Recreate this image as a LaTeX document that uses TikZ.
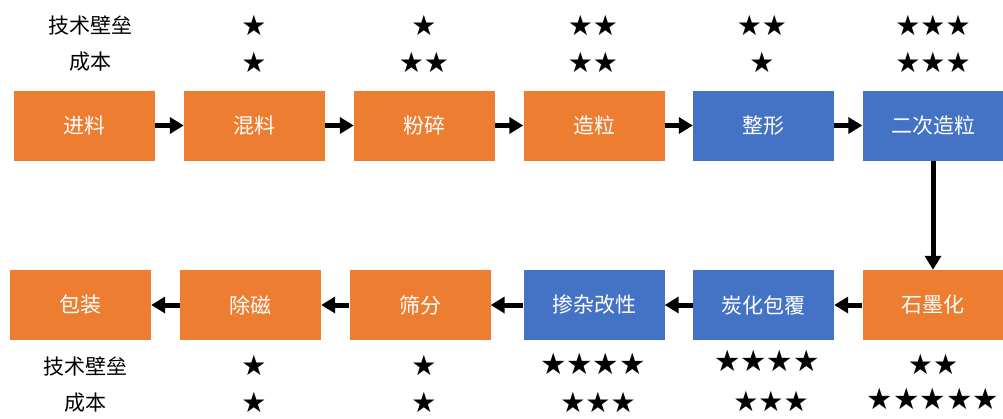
\documentclass[tikz,border=0pt]{standalone}
\usepackage{fontspec}
\setmainfont{Noto Sans CJK SC}
\newfontfamily\symfont{DejaVu Sans}
\usetikzlibrary{arrows.meta}
\definecolor{orng}{HTML}{ED7D31}
\definecolor{blu}{HTML}{4472C4}
\begin{document}
\begin{tikzpicture}[x=1pt,y=-1pt,
  box/.style={fill=#1, draw=none, minimum width=141pt, minimum height=70pt, inner sep=0pt,
    text=white, font=\fontsize{21}{21}\selectfont},
  lbl/.style={inner sep=0pt, font=\fontsize{21}{21}\selectfont},
  stars/.style={inner sep=0pt, font=\symfont\fontsize{28}{28}\selectfont},
  bstars/.style={inner sep=0pt, font=\symfont\fontsize{29.5}{29.5}\selectfont},
  conn/.style={line width=5pt, -{Triangle[length=14pt,width=16pt]}}]
\fill[white] (0,0) rectangle (1003,418);
\useasboundingbox (0,0) rectangle (1003,418);
% top row
\node[box=orng] (a1) at (84.5,125.5) {进料};
\node[box=orng] (a2) at (254.5,125.5) {混料};
\node[box=orng] (a3) at (424.5,125.5) {粉碎};
\node[box=orng] (a4) at (594,125.5) {造粒};
\node[box=blu]  (a5) at (763.5,125.5) {整形};
\node[box=blu]  (a6) at (933,125.5) {二次造粒};
% bottom row
\node[box=orng] (b6) at (933,305) {石墨化};
\node[box=blu]  (b5) at (763.5,305) {炭化包覆};
\node[box=blu]  (b4) at (594,305) {掺杂改性};
\node[box=orng] (b3) at (420,305) {筛分};
\node[box=orng] (b2) at (250.5,305) {除磁};
\node[box=orng] (b1) at (80.5,305) {包装};
% connectors
\draw[conn] (a1) -- (a2);
\draw[conn] (a2) -- (a3);
\draw[conn] (a3) -- (a4);
\draw[conn] (a4) -- (a5);
\draw[conn] (a5) -- (a6);
\draw[conn] (a6) -- (b6);
\draw[conn] (b6) -- (b5);
\draw[conn] (b5) -- (b4);
\draw[conn] (b4) -- (b3);
\draw[conn] (b3) -- (b2);
\draw[conn] (b2) -- (b1);
% top labels
\node[lbl] (t1) at (90,25) {技术壁垒};
\node[lbl] (t2) at (90,62) {成本};
\node[stars] (ts2) at (254,25) {★};
\node[stars] (tc2) at (254,62) {★};
\node[stars] (ts3) at (424,25) {★};
\node[stars] (tc3) at (424,62) {★★};
\node[stars] (ts4) at (593,25) {★★};
\node[stars] (tc4) at (593,62) {★★};
\node[stars] (ts5) at (762,25) {★★};
\node[stars] (tc5) at (762,62) {★};
\node[stars] (ts6) at (933,25) {★★★};
\node[stars] (tc6) at (933,62) {★★★};
% bottom labels
\node[lbl] (u1) at (85,366) {技术壁垒};
\node[lbl] (u2) at (85,403) {成本};
\node[stars] (us2) at (254,365) {★};
\node[stars] (uc2) at (254,402) {★};
\node[stars] (us3) at (424,365) {★};
\node[stars] (uc3) at (424,402) {★};
\node[bstars] (us4) at (593,364) {★★★★};
\node[stars] (uc4) at (598,402) {★★★};
\node[bstars] (us5) at (767,361) {★★★★};
\node[stars] (uc5) at (771,401) {★★★};
\node[stars] (us6) at (933,364) {★★};
\node[bstars] (uc6) at (933,399) {★★★★★};
\end{tikzpicture}
\end{document}
